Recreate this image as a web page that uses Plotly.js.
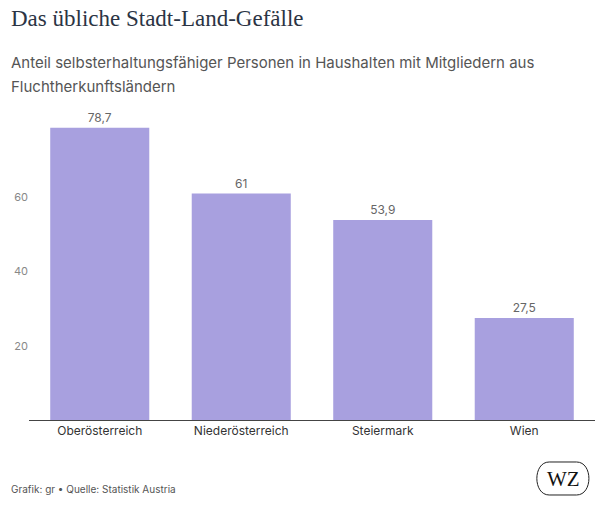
<!DOCTYPE html>
<html>
<head>
<meta charset="utf-8">
<script src="https://cdn.plot.ly/plotly-3.0.1.min.js"></script>
<style>
  html, body { margin: 0; padding: 0; background: #ffffff; }
  #chart { width: 604px; height: 506px; }
</style>
</head>
<body>
<div id="chart"></div>
<script>
/* ── data ───────────────────────────────────────────── */
const regions = ["Oberösterreich", "Niederösterreich", "Steiermark", "Wien"];
const shares  = [78.7, 61, 53.9, 27.5];
const shareLabels = ["78,7", "61", "53,9", "27,5"];

/* ── chart ──────────────────────────────────────────── */
const bars = {
    x: regions,
    y: shares,
    type: "bar",
    marker: { color: "#a8a0df" },
    text: shareLabels,
    textposition: "outside",
    cliponaxis: false,
    textfont: { family: "Inter, sans-serif", size: 12, color: "#666666" },
    hoverinfo: "skip"
};

const textNote = (text, yshift, size, family, color) => ({
    text, xref: "paper", yref: "paper", x: -0.035, y: yshift > 0 ? 1 : 0, yshift,
    xanchor: "left", yanchor: "middle", showarrow: false,
    font: { family, size, color }
});

const layout = {
    width: 604,
    height: 506,
    paper_bgcolor: "#ffffff",
    plot_bgcolor: "#ffffff",
    font: { family: "Inter, sans-serif", color: "#555555", size: 12 },
    margin: { t: 123, b: 86, l: 29, r: 9 },
    showlegend: false,
    bargap: 0.3,
    xaxis: {
        type: "category",
        showline: true,
        linecolor: "#444444",
        linewidth: 1,
        ticks: "",
        tickfont: { size: 12, color: "#333333" }
    },
    yaxis: {
        range: [0, 80],
        tickvals: [20, 40, 60],
        showgrid: false,
        zeroline: false,
        ticks: "",
        tickfont: { size: 11, color: "#888888" }
    },
    annotations: [
        textNote("Das übliche Stadt-Land-Gefälle", 105, 23, "Liberation Serif, serif", "#2b3444"),
        textNote("Anteil selbsterhaltungsfähiger Personen in Haushalten mit Mitgliedern aus", 61, 15, "Inter, sans-serif", "#555555"),
        textNote("Fluchtherkunftsländern", 37, 15, "Inter, sans-serif", "#555555"),
        textNote("Grafik: gr • Quelle: Statistik Austria", -69, 10, "Inter, sans-serif", "#555555"),
        {
            text: "WZ",
            xref: "paper", yref: "paper", x: 0.9435, y: 0, yshift: -58.5,
            xanchor: "center", yanchor: "middle", showarrow: false,
            font: { family: "Liberation Serif, serif", size: 21, color: "#111111" }
        }
    ],
    shapes: [
        {
            type: "path", xref: "paper", yref: "paper",
            path: "M 0.919 -0.1414 L 0.9675 -0.1414 C 0.9965 -0.1414 0.9965 -0.2525 0.9675 -0.2525 L 0.919 -0.2525 C 0.890 -0.2525 0.890 -0.1414 0.919 -0.1414 Z",
            line: { color: "#222222", width: 1 },
            fillcolor: "rgba(0,0,0,0)"
        }
    ]
};

Plotly.newPlot("chart", [bars], layout, { displayModeBar: false, staticPlot: true });
</script>
</body>
</html>
